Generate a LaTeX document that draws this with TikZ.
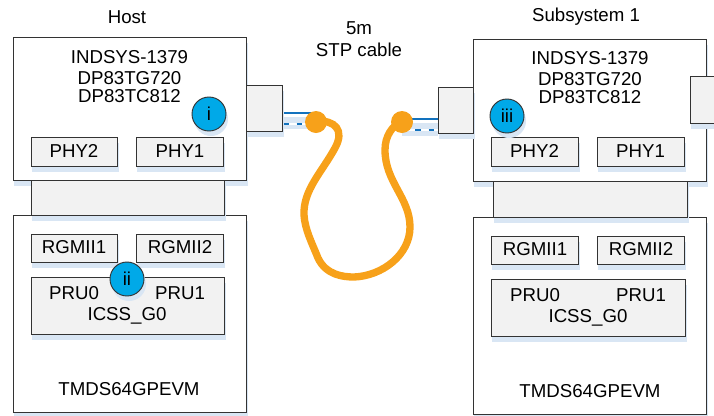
\documentclass[tikz,border=0pt]{standalone}
\usepackage{fontspec}
\setmainfont{Liberation Sans}
\usetikzlibrary{positioning}

\definecolor{boxfill}{HTML}{F2F2F2}
\definecolor{shadowblue}{HTML}{D9E6F4}
\definecolor{markerblue}{HTML}{00A9E8}
\definecolor{cableorange}{HTML}{F7A11A}
\definecolor{wireblue}{HTML}{1272BE}

\tikzset{
  board/.style={draw=black!80,fill=white,line width=0.7pt},
  block/.style={draw=black!80,fill=boxfill,line width=0.7pt},
  marker/.style={circle,draw=black!80,fill=markerblue,line width=0.7pt,minimum size=25.5pt,inner sep=0pt},
  plug/.style={circle,fill=cableorange,minimum size=16.5pt,inner sep=0pt},
  label/.style={font=\fontsize{14}{13.5}\selectfont,inner sep=0pt,align=center},
  cable/.style={draw=cableorange,line width=5.5pt},
}

% box with its offset shadow: style, x1, y1, x2, y2
\newcommand{\panel}[5]{
  \fill[shadowblue] ({#2+1},{#3+6}) rectangle ({#4+2},{#5+6});
  \draw[#1] (#2,#3) rectangle (#4,#5);
}

\begin{document}
\begin{tikzpicture}[x=0.75pt,y=-0.75pt]
\useasboundingbox (0,0) rectangle (714,415);

% host
\panel{board}{13}{37}{246}{180}
\panel{board}{13}{215}{246}{412}
\panel{block}{31}{180}{224}{215}
\panel{block}{31}{137}{117}{166}
\panel{block}{136}{137}{223}{166}
\panel{block}{31}{234}{117}{262}
\panel{block}{136}{234}{223}{262}
\panel{block}{31}{277}{224}{334}

% subsystem
\panel{board}{473}{39}{706}{181}
\panel{board}{473}{217}{706}{414}
\panel{block}{493}{181}{687}{217}
\panel{block}{491}{137}{578}{166}
\panel{block}{597}{137}{684}{166}
\panel{block}{491}{236}{578}{264}
\panel{block}{597}{236}{684}{264}
\panel{block}{491}{279}{685}{336}
\panel{block}{690}{76}{716}{123}

% wires
\fill[shadowblue] (282,117) rectangle (316,129);
\fill[shadowblue] (402,123) rectangle (438,136);
\draw[wireblue,line width=1.5pt] (282,113) -- (316,113);
\draw[white,line width=2pt] (282,124) -- (316,124);
\draw[wireblue,line width=2pt,dash pattern=on 4pt off 6pt,dash phase=-1pt] (282,124) -- (316,124);
\draw[wireblue,line width=1.5pt] (402,119) -- (438,119);
\draw[white,line width=2pt] (402,130) -- (438,130);
\draw[wireblue,line width=2pt,dash pattern=on 4pt off 6pt] (402,130) -- (438,130);

% connectors
\panel{block}{246}{85}{282}{131}
\panel{block}{438}{87}{473}{133}

% cable
\draw[cable] (316,121) .. controls (335,120) and (345,130) .. (335,148)
  .. controls (322,172) and (303,190) .. (304,215)
  .. controls (305,230) and (312,243) .. (318,258)
  .. controls (326,275) and (343,277) .. (354,277)
  .. controls (382,276) and (410,255) .. (410,227)
  .. controls (410,198) and (385,182) .. (385,150)
  .. controls (385,136) and (392,126) .. (402,121);
\node[plug] (plugleft) at (316,122) {};
\node[plug] (plugright) at (402,122) {};

% markers
\fill[shadowblue] (211,119) circle (17);
\fill[shadowblue] (129,284) circle (17);
\fill[shadowblue] (509,121) circle (17);
\node[marker] (mi) at (209,114) {};
\node[marker] (mii) at (127,279) {};
\node[marker] (miii) at (507,116) {};
\node[label] at (mi) {i};
\node[label] at (mii) {ii};
\node[label] at (miii) {iii};

% labels
\node[label] (host) at (127,17) {Host};
\node[label] (sub) at (586,17) {Subsystem 1};
\node[label] (stp) at (359,39) {5m\\[2.5pt]STP cable};
\node[label] (hostic) at (129.5,76.5) {INDSYS-1379\\[2pt]DP83TG720\\DP83TC812};
\node[label] (subic) at (590,77.5) {INDSYS-1379\\[2pt]DP83TG720\\DP83TC812};
\node[label] at (74,151) {PHY2};
\node[label] at (180,151) {PHY1};
\node[label] at (534.5,151) {PHY2};
\node[label] at (640.5,151) {PHY1};
\node[label] at (74,247) {RGMII1};
\node[label] at (180,247) {RGMII2};
\node[label] at (535,249) {RGMII1};
\node[label] at (641,249) {RGMII2};
\node[label] at (74,293) {PRU0};
\node[label] at (180,293) {PRU1};
\node[label] at (127,316) {ICSS\_G0};
\node[label] at (535,295) {PRU0};
\node[label] at (641,295) {PRU1};
\node[label] at (588,318) {ICSS\_G0};
\node[label] at (129,389) {TMDS64GPEVM};
\node[label] at (590,391) {TMDS64GPEVM};

\end{tikzpicture}
\end{document}
